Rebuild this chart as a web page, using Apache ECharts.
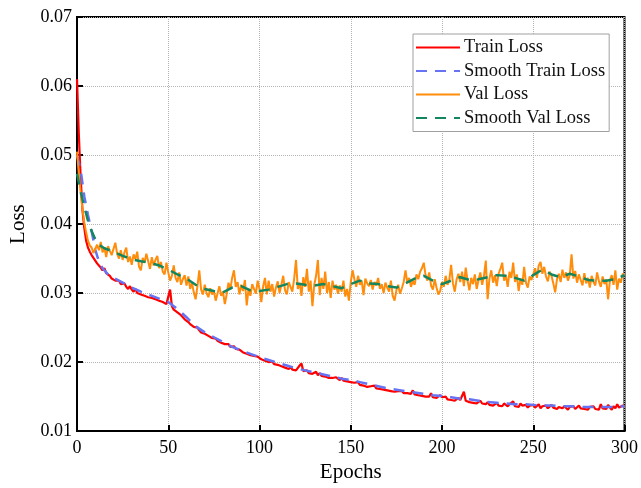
<!DOCTYPE html>
<html>
<head>
<meta charset="utf-8">
<script src="https://cdn.jsdelivr.net/npm/echarts@6/dist/echarts.min.js"></script>
<style>
    html, body { margin: 0; padding: 0; background: #fff; }
    #chart { width: 641px; height: 488px; }
</style>
</head>
<body>
<div id="chart"></div>
<script>
    // 训练损失 (epoch 0..300)
    const trainLoss = [
        0.0610, 0.0530, 0.0468, 0.0420, 0.0394, 0.0376, 0.0366, 0.0360, 0.0355, 0.0351,
        0.0347, 0.0343, 0.0340, 0.0337, 0.0333, 0.0336, 0.0329, 0.0327, 0.0325, 0.0321,
        0.0322, 0.0318, 0.0316, 0.0318, 0.0313, 0.0311, 0.0314, 0.0309, 0.0306, 0.0310,
        0.0305, 0.0302, 0.0306, 0.0300, 0.0302, 0.0298, 0.0300, 0.0296, 0.0297, 0.0294,
        0.0295, 0.0293, 0.0295, 0.0291, 0.0292, 0.0289, 0.0291, 0.0287, 0.0288, 0.0284,
        0.0286, 0.0305, 0.0281, 0.0276, 0.0278, 0.0272, 0.0274, 0.0268, 0.0266, 0.0262,
        0.0264, 0.0258, 0.0255, 0.0257, 0.0251, 0.0249, 0.0250, 0.0246, 0.0243, 0.0245,
        0.0241, 0.0240, 0.0238, 0.0239, 0.0235, 0.0233, 0.0234, 0.0231, 0.0232, 0.0228,
        0.0229, 0.0226, 0.0224, 0.0226, 0.0222, 0.0220, 0.0223, 0.0219, 0.0217, 0.0218,
        0.0216, 0.0214, 0.0216, 0.0212, 0.0213, 0.0210, 0.0211, 0.0209, 0.0207, 0.0208,
        0.0206, 0.0204, 0.0206, 0.0202, 0.0203, 0.0200, 0.0199, 0.0201, 0.0197, 0.0198,
        0.0196, 0.0198, 0.0194, 0.0195, 0.0192, 0.0194, 0.0190, 0.0193, 0.0189, 0.0191,
        0.0188, 0.0190, 0.0195, 0.0198, 0.0187, 0.0185, 0.0188, 0.0184, 0.0186, 0.0183,
        0.0185, 0.0186, 0.0181, 0.0184, 0.0180, 0.0182, 0.0179, 0.0181, 0.0177, 0.0179,
        0.0177, 0.0175, 0.0178, 0.0176, 0.0174, 0.0177, 0.0173, 0.0175, 0.0172, 0.0174,
        0.0171, 0.0172, 0.0170, 0.0168, 0.0171, 0.0167, 0.0169, 0.0166, 0.0168, 0.0164,
        0.0166, 0.0165, 0.0163, 0.0166, 0.0162, 0.0164, 0.0161, 0.0163, 0.0160, 0.0161,
        0.0159, 0.0161, 0.0158, 0.0160, 0.0157, 0.0159, 0.0158, 0.0156, 0.0158, 0.0155,
        0.0157, 0.0155, 0.0156, 0.0154, 0.0159, 0.0153, 0.0155, 0.0152, 0.0154, 0.0151,
        0.0153, 0.0150, 0.0152, 0.0150, 0.0155, 0.0149, 0.0151, 0.0148, 0.0150, 0.0152,
        0.0149, 0.0147, 0.0150, 0.0146, 0.0148, 0.0145, 0.0147, 0.0144, 0.0146, 0.0148,
        0.0145, 0.0143, 0.0157, 0.0144, 0.0146, 0.0142, 0.0144, 0.0141, 0.0143, 0.0140,
        0.0142, 0.0144, 0.0140, 0.0141, 0.0139, 0.0142, 0.0138, 0.0140, 0.0137, 0.0139,
        0.0141, 0.0137, 0.0139, 0.0136, 0.0140, 0.0138, 0.0136, 0.0139, 0.0137, 0.0143,
        0.0136, 0.0138, 0.0135, 0.0140, 0.0137, 0.0135, 0.0138, 0.0134, 0.0137, 0.0135,
        0.0138, 0.0134, 0.0136, 0.0139, 0.0133, 0.0136, 0.0134, 0.0137, 0.0133, 0.0135,
        0.0138, 0.0134, 0.0136, 0.0132, 0.0135, 0.0137, 0.0133, 0.0136, 0.0134, 0.0131,
        0.0135, 0.0133, 0.0136, 0.0132, 0.0134, 0.0137, 0.0133, 0.0135, 0.0132, 0.0134,
        0.0131, 0.0135, 0.0133, 0.0136, 0.0132, 0.0134, 0.0131, 0.0139, 0.0133, 0.0135,
        0.0132, 0.0138, 0.0134, 0.0131, 0.0136, 0.0133, 0.0139, 0.0134, 0.0132, 0.0137,
        0.0135
    ];

    // 验证损失 (epoch 0..300)
    const valLoss = [
        0.0505, 0.0472, 0.0446, 0.0421, 0.0402, 0.0388, 0.0376, 0.0369, 0.0366, 0.0358,
        0.0356, 0.0370, 0.0362, 0.0374, 0.0359, 0.0366, 0.0352, 0.0368, 0.0361, 0.0355,
        0.0364, 0.0373, 0.0357, 0.0350, 0.0362, 0.0348, 0.0359, 0.0366, 0.0345, 0.0353,
        0.0341, 0.0356, 0.0349, 0.0360, 0.0338, 0.0333, 0.0351, 0.0344, 0.0357, 0.0346,
        0.0335, 0.0352, 0.0340, 0.0348, 0.0354, 0.0336, 0.0345, 0.0331, 0.0327, 0.0344,
        0.0330, 0.0318, 0.0325, 0.0340, 0.0322, 0.0316, 0.0330, 0.0312, 0.0320, 0.0326,
        0.0311, 0.0324, 0.0306, 0.0315, 0.0301, 0.0291, 0.0310, 0.0333, 0.0305, 0.0298,
        0.0312, 0.0300, 0.0294, 0.0307, 0.0298, 0.0303, 0.0289, 0.0291, 0.0310, 0.0296,
        0.0302, 0.0284, 0.0298, 0.0315, 0.0305, 0.0322, 0.0333, 0.0309, 0.0316, 0.0298,
        0.0312, 0.0303, 0.0319, 0.0282, 0.0306, 0.0296, 0.0313, 0.0311, 0.0299, 0.0318,
        0.0306, 0.0287, 0.0310, 0.0322, 0.0298, 0.0318, 0.0302, 0.0313, 0.0295, 0.0308,
        0.0317, 0.0300, 0.0312, 0.0325, 0.0304, 0.0298, 0.0316, 0.0309, 0.0302, 0.0321,
        0.0348, 0.0306, 0.0315, 0.0296, 0.0323, 0.0309, 0.0335, 0.0302, 0.0318, 0.0281,
        0.0312, 0.0325, 0.0348, 0.0297, 0.0322, 0.0306, 0.0331, 0.0300, 0.0316, 0.0293,
        0.0318, 0.0305, 0.0312, 0.0299, 0.0311, 0.0302, 0.0318, 0.0295, 0.0306, 0.0289,
        0.0316, 0.0333, 0.0320, 0.0309, 0.0325, 0.0312, 0.0318, 0.0297, 0.0321, 0.0314,
        0.0310, 0.0319, 0.0305, 0.0316, 0.0311, 0.0322, 0.0306, 0.0313, 0.0300, 0.0315,
        0.0308, 0.0302, 0.0318, 0.0296, 0.0289, 0.0304, 0.0312, 0.0299, 0.0307, 0.0316,
        0.0333, 0.0315, 0.0322, 0.0309, 0.0318, 0.0312, 0.0327, 0.0320, 0.0331, 0.0336,
        0.0344, 0.0326, 0.0318, 0.0330, 0.0311, 0.0305, 0.0320, 0.0308, 0.0298, 0.0303,
        0.0316, 0.0309, 0.0325, 0.0312, 0.0319, 0.0341, 0.0314, 0.0302, 0.0320, 0.0328,
        0.0316, 0.0331, 0.0310, 0.0337, 0.0318, 0.0304, 0.0322, 0.0313, 0.0327, 0.0306,
        0.0319, 0.0330, 0.0312, 0.0325, 0.0347, 0.0291, 0.0321, 0.0333, 0.0315, 0.0326,
        0.0310, 0.0328, 0.0335, 0.0344, 0.0318, 0.0326, 0.0309, 0.0331, 0.0322, 0.0344,
        0.0316, 0.0327, 0.0303, 0.0321, 0.0312, 0.0338, 0.0315, 0.0308, 0.0324, 0.0319,
        0.0327, 0.0336, 0.0322, 0.0340, 0.0345, 0.0328, 0.0338, 0.0324, 0.0317, 0.0331,
        0.0325, 0.0314, 0.0301, 0.0320, 0.0328, 0.0316, 0.0334, 0.0322, 0.0330, 0.0318,
        0.0326, 0.0356, 0.0321, 0.0332, 0.0315, 0.0327, 0.0319, 0.0311, 0.0329, 0.0314,
        0.0322, 0.0308, 0.0325, 0.0316, 0.0311, 0.0330, 0.0317, 0.0309, 0.0324, 0.0313,
        0.0320, 0.0291, 0.0318, 0.0326, 0.0312, 0.0333, 0.0305, 0.0321, 0.0315, 0.0328,
        0.0326
    ];

    // 平滑曲线
    const smoothTrainEpochs = [0, 2, 4, 6, 8, 10, 12, 14, 17, 20, 25, 30, 35, 40, 45, 50, 55, 60, 65, 70,
        75, 80, 85, 90, 95, 100, 105, 110, 115, 120, 125, 130, 135, 140, 145, 150, 155, 160, 165, 170,
        175, 180, 185, 190, 195, 200, 205, 210, 215, 220, 225, 230, 235, 240, 245, 250, 255, 260, 265, 270,
        275, 280, 285, 290, 295, 300];
    const smoothTrain = [0.0500, 0.0478, 0.0440, 0.0413, 0.0390, 0.0363, 0.0346, 0.0336, 0.0327, 0.0322,
        0.0315, 0.0308, 0.0302, 0.0297, 0.0292, 0.0287, 0.0277, 0.0265, 0.0252, 0.0243,
        0.0236, 0.0229, 0.0222, 0.0217, 0.0212, 0.0207, 0.0203, 0.0199, 0.0195, 0.0191,
        0.0188, 0.0185, 0.0182, 0.0179, 0.0176, 0.0174, 0.0171, 0.0168, 0.0165, 0.0162,
        0.0160, 0.0158, 0.0156, 0.0154, 0.0152, 0.0151, 0.0149, 0.0147, 0.0146, 0.0144,
        0.0142, 0.0141, 0.0140, 0.0139, 0.0139, 0.0138, 0.0137, 0.0137, 0.0136, 0.0136,
        0.0135, 0.0135, 0.0135, 0.0135, 0.0135, 0.0136];

    const smoothValEpochs = [0, 2, 4, 6, 8, 10, 12, 15, 20, 25, 30, 35, 40, 45, 50, 55, 60, 65, 70, 75,
        80, 85, 90, 95, 100, 105, 110, 115, 120, 125, 130, 135, 140, 145, 150, 155, 160, 165, 170, 175,
        180, 185, 190, 195, 200, 205, 210, 215, 220, 225, 230, 235, 240, 245, 250, 255, 260, 265, 270, 275,
        280, 285, 290, 295, 300];
    const smoothVal = [0.0473, 0.0447, 0.0425, 0.0405, 0.0390, 0.0378, 0.0370, 0.0365, 0.0360, 0.0354,
        0.0349, 0.0346, 0.0344, 0.0340, 0.0334, 0.0327, 0.0321, 0.0312, 0.0306, 0.0303,
        0.0301, 0.0308, 0.0310, 0.0304, 0.0303, 0.0305, 0.0309, 0.0313, 0.0314, 0.0312,
        0.0311, 0.0313, 0.0310, 0.0307, 0.0313, 0.0318, 0.0314, 0.0313, 0.0310, 0.0308,
        0.0314, 0.0321, 0.0325, 0.0318, 0.0313, 0.0318, 0.0323, 0.0319, 0.0320, 0.0323,
        0.0326, 0.0325, 0.0322, 0.0318, 0.0326, 0.0334, 0.0327, 0.0323, 0.0328, 0.0324,
        0.0319, 0.0318, 0.0318, 0.0320, 0.0326];

    const yTicks = ['0.01', '0.02', '0.03', '0.04', '0.05', '0.06', '0.07'];

    const serif = 'Liberation Serif';
    const chart = echarts.init(document.getElementById('chart'));

    const option = {
        animation: false,
        backgroundColor: '#fff',
        grid: {
            left: 77,
            right: 14,
            top: 17,
            bottom: 53,
            show: true,
            borderColor: '#000',
            borderWidth: 2
        },
        legend: {
            orient: 'vertical',
            left: 413,
            top: 34,
            padding: [4, 4, 4, 2],
            itemGap: 4.5,
            itemWidth: 44,
            itemHeight: 20,
            backgroundColor: '#fff',
            borderColor: '#a0a0a0',
            borderWidth: 1,
            borderRadius: 0,
            itemStyle: { opacity: 0 },
            textStyle: { fontFamily: serif, fontSize: 18.5, color: '#111', padding: [0, 0, 0, -1] },
            data: ['Train Loss', 'Smooth Train Loss', 'Val Loss', 'Smooth Val Loss']
        },
        xAxis: {
            type: 'value',
            min: 0,
            max: 300,
            interval: 50,
            name: 'Epochs',
            nameLocation: 'middle',
            nameGap: 24,
            nameTextStyle: { fontFamily: serif, fontSize: 21, color: '#000' },
            axisLine: { show: true, lineStyle: { color: '#000', width: 2 } },
            axisTick: { show: true, inside: true, length: 6, lineStyle: { color: '#000', width: 2 } },
            axisLabel: { fontFamily: serif, fontSize: 18, color: '#000', margin: 8 },
            splitLine: { show: true, lineStyle: { color: '#b4b4b4', type: 'dotted', width: 1 } }
        },
        yAxis: {
            type: 'value',
            min: 0.01,
            max: 0.07,
            interval: 0.01,
            name: 'Loss',
            nameLocation: 'middle',
            nameGap: 48,
            nameTextStyle: { fontFamily: serif, fontSize: 21, color: '#000' },
            axisLine: { show: true, lineStyle: { color: '#000', width: 2 } },
            axisTick: { show: true, inside: true, length: 6, lineStyle: { color: '#000', width: 2 } },
            axisLabel: {
                fontFamily: serif,
                fontSize: 18,
                color: '#000',
                margin: 5,
                formatter: (v) => yTicks[Math.round((v - 0.01) * 100)] || ''
            },
            splitLine: { show: true, lineStyle: { color: '#b4b4b4', type: 'dotted', width: 1 } }
        },
        series: [
            {
                name: 'Train Loss',
                type: 'line',
                showSymbol: false,
                symbol: 'none',
                data: trainLoss.map((v, i) => [i, v]),
                lineStyle: { color: '#ff0000', width: 2.2 },
                itemStyle: { color: '#ff0000' },
                z: 2
            },
            {
                name: 'Smooth Train Loss',
                type: 'line',
                showSymbol: false,
                symbol: 'none',
                data: smoothTrainEpochs.map((e, i) => [e, smoothTrain[i]]),
                lineStyle: { color: '#6673f2', width: 2.5, type: [11, 8] },
                itemStyle: { color: '#6673f2' },
                z: 3
            },
            {
                name: 'Val Loss',
                type: 'line',
                showSymbol: false,
                symbol: 'none',
                data: valLoss.map((v, i) => [i, v]),
                lineStyle: { color: '#ff8c0a', width: 2 },
                itemStyle: { color: '#ff8c0a' },
                z: 4
            },
            {
                name: 'Smooth Val Loss',
                type: 'line',
                showSymbol: false,
                symbol: 'none',
                data: smoothValEpochs.map((e, i) => [e, smoothVal[i]]),
                lineStyle: { color: '#12875f', width: 2.5, type: [11, 8] },
                itemStyle: { color: '#12875f' },
                z: 5
            }
        ]
    };

    chart.setOption(option);
</script>
</body>
</html>
